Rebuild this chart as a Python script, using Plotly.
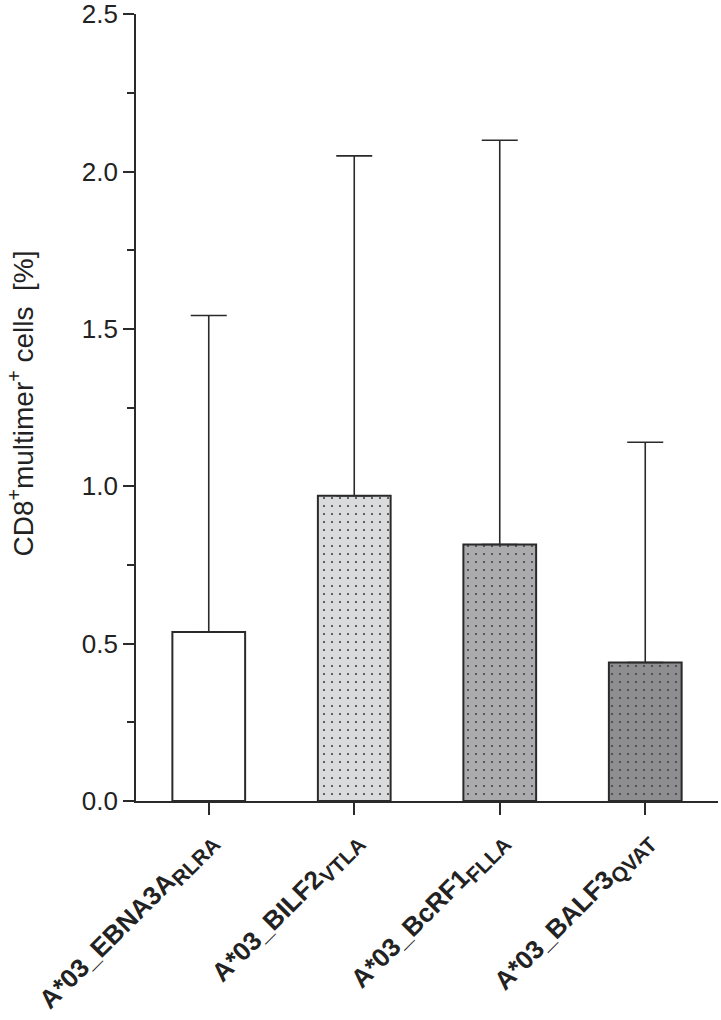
import plotly.graph_objects as go

names = ["A*03_EBNA3A", "A*03_BILF2", "A*03_BcRF1", "A*03_BALF3"]
subs = ["RLRA", "VTLA", "FLLA", "QVAT"]
means = [0.537, 0.970, 0.815, 0.440]
errors_up = [1.006, 1.080, 1.285, 0.700]
fill_colors = ["#ffffff", "#dadbdc", "#ababad", "#8e8e90"]
pattern_shapes = ["", ".", ".", "."]
y_ticks = [0.0, 0.5, 1.0, 1.5, 2.0, 2.5]
y_title = "CD8<sup>+</sup>multimer<sup>+</sup> cells  [%]"

categories = [f"{n}<sub><span style='font-size:21px'>{s}</span></sub>" for n, s in zip(names, subs)]

fig = go.Figure()
fig.add_trace(go.Bar(
    x=categories,
    y=means,
    width=0.5,
    marker=dict(
        color=fill_colors,
        line=dict(color="#2a2a2a", width=2),
        pattern=dict(shape=pattern_shapes, fgcolor="#222222", fgopacity=1,
                     size=8, solidity=0.06, fillmode="overlay"),
    ),
    error_y=dict(type="data", symmetric=False, array=errors_up,
                 arrayminus=[0] * len(means), color="#2a2a2a",
                 thickness=1.6, width=18),
    showlegend=False,
))

fig.update_layout(
    width=721, height=1020,
    margin=dict(l=136, r=3, t=14, b=219, autoexpand=False),
    paper_bgcolor="white", plot_bgcolor="white",
    font=dict(family="Liberation Sans, Arial, sans-serif", color="#222"),
    annotations=[dict(
        text=y_title, textangle=-90, showarrow=False,
        xref="paper", yref="paper", x=0, y=0.505, xanchor="center", yanchor="middle",
        xshift=-115,
        font=dict(family="Liberation Sans, Arial, sans-serif", size=28, color="#222"),
    )],
)
fig.update_xaxes(
    range=[-0.5, 3.5],
    showline=True, linecolor="#2a2a2a", linewidth=1.6,
    ticks="outside", ticklen=12, tickwidth=1.6, tickcolor="#2a2a2a",
    tickangle=-45, automargin=False,
    tickfont=dict(family="Liberation Sans, Arial, sans-serif", size=26, color="#222",
                  weight="bold"),
    showgrid=False, zeroline=False,
)
fig.update_yaxes(
    range=[0, 2.501],
    tickvals=y_ticks,
    ticktext=[f"{v:.1f}" for v in y_ticks],
    showline=True, linecolor="#2a2a2a", linewidth=1.6,
    ticks="outside", ticklen=11, tickwidth=1.6, tickcolor="#2a2a2a",
    minor=dict(dtick=0.25, ticks="outside", ticklen=7, tickwidth=1.6, tickcolor="#2a2a2a"),
    tickfont=dict(family="Liberation Sans, Arial, sans-serif", size=26, color="#222"),
    ticklabeloverflow="allow",
    automargin=False,
    showgrid=False, zeroline=False,
)

fig.write_html("out.html", config={"displayModeBar": False},
               post_script="document.body.style.margin='0px';")
